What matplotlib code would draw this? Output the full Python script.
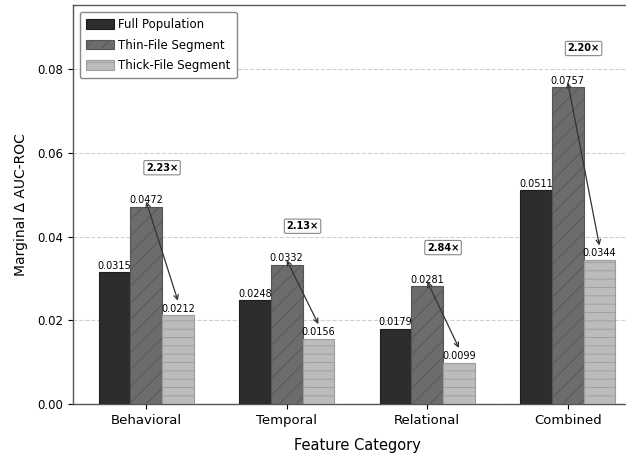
import matplotlib
matplotlib.use("Agg")
import matplotlib.pyplot as plt
import numpy as np

categories = ["Behavioral", "Temporal", "Relational", "Combined"]
full_population = [0.0315, 0.0248, 0.0179, 0.0511]
thin_file = [0.0472, 0.0332, 0.0281, 0.0757]
thick_file = [0.0212, 0.0156, 0.0099, 0.0344]
series_names = ["Full Population", "Thin-File Segment", "Thick-File Segment"]

plt.rcParams["font.family"] = ["DejaVu Sans"]
plt.rcParams["hatch.linewidth"] = 0.6

fig = plt.figure(figsize=(6.26, 4.57), dpi=100)
ax = fig.add_axes([73 / 626, 1 - 404 / 457, (641 - 73) / 626, (404 - 5) / 457])

x = np.arange(len(categories))
w = 0.225

styles = [
    dict(color="#2d2d2d", edgecolor="#1e1e1e", hatch=None),
    dict(color="#6c6c6c", edgecolor="#555555", hatch="//"),
    dict(color="#bcbcbc", edgecolor="#9c9c9c", hatch="--"),
]
data = [full_population, thin_file, thick_file]
for i, (vals, name, st) in enumerate(zip(data, series_names, styles)):
    xs = x + (i - 1) * w
    ax.bar(xs, vals, w, label=name, color=st["color"], edgecolor=st["edgecolor"],
           hatch=st["hatch"], linewidth=0.8, zorder=3)
    for xi, v in zip(xs, vals):
        ax.text(xi, v + 0.0004, f"{v:.4f}", ha="center", va="bottom",
                fontsize=7, zorder=5)

# thin vs thick comparison arrows and ratio boxes
for xi, tv, kv in zip(x, thin_file, thick_file):
    ax.annotate("", xy=(xi + w, kv + 0.0035), xytext=(xi, tv + 0.0012),
                arrowprops=dict(arrowstyle="<->", color="#333333", lw=0.9,
                                shrinkA=0, shrinkB=0, mutation_scale=8), zorder=6)
    ax.text(xi + w / 2, tv + 0.0093, f"{tv / kv:.2f}×", ha="center", va="center",
            fontsize=7, fontweight="bold", zorder=6,
            bbox=dict(boxstyle="round,pad=0.22,rounding_size=0.15", fc="white",
                      ec="#888888", lw=0.8))

ax.set_ylim(0, 0.0954)
ax.set_xticks(x)
ax.set_xticklabels(categories, fontsize=9.5)
ax.set_yticks([0, 0.02, 0.04, 0.06, 0.08])
ax.set_yticklabels([f"{t:.2f}" for t in [0, 0.02, 0.04, 0.06, 0.08]], fontsize=8.5)
ax.set_xlabel("Feature Category", fontsize=10.5, labelpad=8)
ax.set_ylabel("Marginal Δ AUC-ROC", fontsize=10, labelpad=7)
ax.yaxis.grid(True, linestyle="--", color="#d0d0d0", linewidth=0.8, zorder=0)
ax.set_axisbelow(True)
for s in ax.spines.values():
    s.set_color("#555555")
    s.set_linewidth(1.0)

ax.legend(loc="upper left", fontsize=8.5, frameon=True, edgecolor="#888888",
          fancybox=True, framealpha=1.0, handlelength=2.4, handleheight=0.9,
          handletextpad=0.35, labelspacing=0.65, borderpad=0.5, borderaxespad=0.6)

fig.savefig("out.png", dpi=100)
